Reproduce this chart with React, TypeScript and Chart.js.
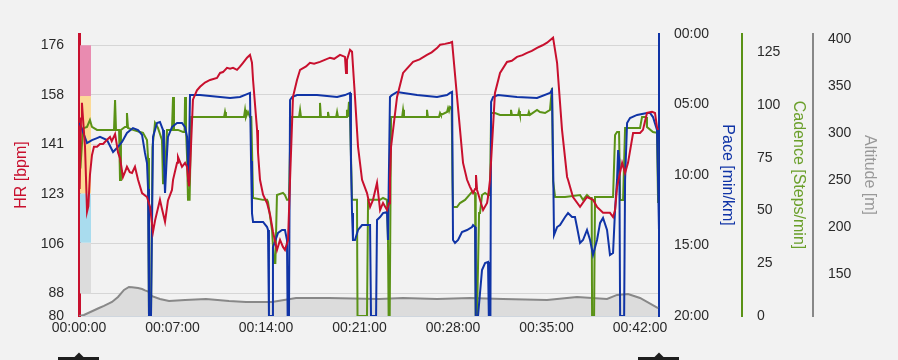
import React, { useEffect, useRef } from "react";
import { Chart, registerables } from "chart.js";

Chart.register(...registerables);

// ---------------- DATA (time in minutes) ----------------
const X_MAX = 43.42;
const X_TICKS = [0, 7, 14, 21, 28, 35, 42];
const HR_TICKS = [80, 88, 105.6, 123.2, 140.8, 158.4, 176];
const PACE_TICKS = [0, 5, 10, 15, 20];
const CAD_TICKS = [0, 25, 50, 75, 100, 125];
const ALT_TICKS = [150, 200, 250, 300, 350, 400];
const HR_ZONE_BOUNDS = [88, 106, 123.5, 158, 176];

const HR_DATA: number[][] = [
  [0.05, 125], [0.15, 150], [0.22, 155.6], [0.3, 150], [0.45, 140], [0.55, 125], [0.6, 117], [0.7, 119],
  [0.82, 130], [0.97, 137], [1.12, 140], [1.35, 140], [1.57, 141], [1.8, 141], [2.1, 142.5], [2.32, 143.5],
  [2.45, 142], [2.55, 143], [2.7, 144.5], [2.84, 140.5], [2.92, 138], [3.07, 136], [3.29, 129.3], [3.44, 131],
  [3.59, 132.9], [3.8, 131], [3.97, 130.7], [4.19, 132.9], [4.42, 128.3], [4.72, 123.6], [5.09, 122.2],
  [5.32, 118.7], [5.54, 109.8], [5.7, 114], [6.06, 121.2], [6.21, 118], [6.44, 113.4], [6.66, 121],
  [6.96, 124.7], [7.04, 128.3], [7.34, 134.3], [7.41, 136.4], [7.71, 132.9], [7.94, 134.3], [8.09, 132.9],
  [8.16, 129], [8.24, 126],
  [8.31, 131.8], [8.53, 156.7], [8.83, 160], [9.06, 161.3], [9.43, 162.8], [9.81, 163.7], [10.33, 164.4],
  [10.56, 166.2], [10.78, 166.5], [11.08, 168], [11.31, 167.7], [11.53, 168], [11.83, 167.3], [12.05, 168.4],
  [12.28, 169.8], [12.58, 171.6], [12.8, 172.6],
  [12.95, 169.8], [13.03, 163.7], [13.33, 146], [13.4, 138], [13.55, 128.3], [13.78, 123], [14.08, 120],
  [14.3, 116], [14.52, 110], [14.82, 103.4], [15.05, 107], [15.27, 104.5], [15.42, 103.4], [15.65, 107],
  [15.8, 128.3],
  [16.02, 157.7], [16.32, 163.7], [16.55, 167.3], [17.0, 168.5], [17.29, 169.8], [17.6, 169.5], [18.04, 170.1],
  [18.4, 170.8], [18.79, 171.6], [19.1, 171.2], [19.54, 172.6], [19.91, 171.9], [19.99, 166.2], [20.06, 170.8],
  [20.29, 174.4], [20.44, 173.7], [20.66, 157.7], [20.89, 140], [21.19, 128.3], [21.56, 123.6], [21.79, 118.7],
  [22.01, 121.2], [22.31, 127.2], [22.54, 117.6], [22.76, 120.1], [23.06, 117.6], [23.21, 120], [23.28, 128.3],
  [23.36, 140], [23.81, 157.7], [24.26, 166.2], [24.6, 168], [25.01, 170.1], [25.5, 171], [26.05, 172.6],
  [26.4, 173.5], [26.8, 175], [27.03, 176.2], [27.4, 176.5], [27.78, 176.9], [27.93, 177.2], [28.3, 157.7],
  [28.75, 134.3], [29.05, 128.3], [29.27, 125.8], [29.5, 123.6], [29.65, 125], [29.72, 130], [29.8, 124.7],
  [30.02, 121.2], [30.25, 117.6], [30.55, 120.1], [30.62, 122.2], [30.77, 128.3],
  [31.14, 159.1], [31.52, 166.2], [32.04, 170.1], [32.4, 170.5], [32.79, 171.9], [33.2, 172.5], [33.54, 173.3],
  [33.9, 174], [34.29, 175.1], [34.7, 176], [35.04, 176.9], [35.49, 178.7], [35.79, 169.8], [36.16, 146],
  [36.54, 129.3], [36.61, 128.3], [36.98, 122.2], [37.51, 118.7], [38.03, 122.2], [38.48, 121.2], [38.78, 118.7],
  [39.23, 116.6], [39.75, 116.6], [39.98, 115.1], [40.13, 117.6], [40.28, 125.8], [40.66, 134.3], [40.88, 130.7],
  [41.1, 134.3], [41.48, 144.9], [42.0, 144.9], [42.22, 146], [42.52, 152], [42.9, 152.4], [43.12, 152],
  [43.27, 147], [43.35, 146],
];

const PACE_DATA: number[][] = [
  [0.05, 6.3], [0.6, 7.73], [0.97, 7.52], [1.35, 7.38], [1.57, 7.3], [2.1, 7.52], [2.55, 8.37], [2.84, 8.09],
  [3.22, 7.66], [3.59, 7.02], [4.04, 6.67], [4.42, 6.81], [4.72, 7.16], [4.94, 8.44], [5.09, 9.15], [5.17, 11],
  [5.24, 20], [5.39, 20], [5.54, 7.3], [5.84, 6.31], [6.06, 6.24], [6.29, 6.81], [6.36, 9.15], [6.44, 11.28],
  [6.55, 9.15], [6.66, 7.3], [6.96, 6.6], [7.34, 6.31], [7.71, 6.31], [7.94, 6.6], [8.09, 7.3], [8.16, 9.15],
  [8.2, 10.5], [8.28, 6], [8.31, 4.33], [9.06, 4.33], [9.81, 4.4], [11.31, 4.54], [12.05, 4.47], [12.58, 4.26],
  [12.8, 4.18], [12.88, 9], [12.95, 12.7], [13.03, 13.33], [13.78, 13.33], [14.08, 13.69], [14.15, 13.9],
  [14.22, 20], [14.45, 20], [14.52, 15.11], [14.9, 14.11], [15.2, 13.9], [15.42, 13.9], [15.57, 14.61],
  [15.62, 20], [15.72, 20], [15.8, 4.68], [15.95, 4.47], [16.32, 4.33], [17.82, 4.33], [19.32, 4.47],
  [19.91, 4.33], [20.29, 4.18], [20.36, 9], [20.44, 12.7], [20.51, 14.61], [20.66, 14.61], [20.89, 13.9],
  [21.19, 13.55], [21.79, 13.55], [21.86, 20], [22.24, 20], [22.31, 13.19], [22.54, 12.98], [22.76, 12.7],
  [23.06, 12.62], [23.13, 14.61], [23.28, 4.47], [23.43, 4.33], [23.81, 4.11], [25.31, 4.33], [26.8, 4.47],
  [27.55, 4.33], [27.78, 4.18], [27.93, 4.11], [28.0, 14.61], [28.15, 14.82], [28.38, 14.61], [28.67, 14.04],
  [29.05, 13.9], [29.42, 13.69], [29.5, 13.55], [29.65, 13.69], [29.7, 20], [29.87, 20], [30.17, 16.74],
  [30.4, 16.24], [30.62, 16.17], [30.68, 20], [30.8, 20], [30.85, 4.82], [31.0, 4.47], [31.37, 4.33],
  [32.79, 4.47], [34.29, 4.54], [35.26, 4.18], [35.41, 3.97], [35.49, 9], [35.56, 14.26], [35.79, 13.69],
  [36.01, 13.55], [36.39, 12.98], [36.61, 12.7], [36.91, 12.98], [37.13, 12.98], [37.28, 13.69], [37.51, 14.82],
  [37.73, 14.61], [38.03, 13.9], [38.26, 14.61], [38.48, 15.67], [38.78, 14.61], [39.01, 13.4], [39.23, 13.05],
  [39.53, 13.9], [39.75, 15.67], [39.98, 15.53], [40.13, 12.48], [40.28, 10.35], [40.36, 8.23], [40.45, 8.94],
  [40.51, 20], [40.81, 20], [40.88, 10.35], [41.03, 6.31], [41.25, 5.96], [41.78, 5.74], [42.52, 5.6],
  [42.75, 5.6], [42.97, 5.89], [43.27, 6.81], [43.35, 10.35], [43.42, 14],
];

const CAD_DATA: number[][] = [
  [0.1, 70], [0.3, 89], [0.6, 89.7], [0.82, 93], [0.97, 89.7], [1.35, 88.3], [2.62, 88.3], [2.7, 102.5],
  [2.77, 88.3], [3.0, 88.3], [3.07, 64.5], [3.14, 88.3], [3.44, 89.7], [3.55, 89.7], [3.59, 96.3], [3.67, 89.2],
  [4.04, 88.3], [4.57, 87.3], [4.79, 86.9], [5.09, 83.5], [5.17, 75], [5.24, 0], [5.39, 0], [5.5, 80],
  [5.69, 91.6], [5.91, 89.2], [6.21, 83.5], [6.29, 63], [6.4, 63], [6.59, 88.3], [6.96, 88.3], [7.04, 103.9],
  [7.11, 88.3], [7.41, 88.3], [7.79, 87.3], [7.9, 87.3], [7.94, 103.9], [8.01, 88.3], [8.09, 75.5],
  [8.16, 55.1], [8.28, 55.1], [8.4, 94.4], [10.86, 94.4], [10.93, 96.8], [11.0, 94.4], [12.35, 94.4],
  [12.43, 97.8], [12.5, 94.4], [12.65, 96.8], [12.8, 94.4], [12.9, 94.4], [13.03, 56], [13.78, 55.1],
  [14.08, 55.1], [14.15, 54.1], [14.45, 40.8], [14.6, 25.2], [14.7, 25.2], [14.82, 57.4], [15.27, 58.4],
  [15.42, 57.4], [15.57, 55.1], [15.72, 55.1], [15.85, 94.4], [16.47, 94.4], [16.55, 97.8], [16.62, 94.4],
  [17.97, 94.4], [18.04, 101.1], [18.11, 94.4], [18.57, 94.4], [18.64, 96.8], [18.71, 94.4], [19.25, 94.4],
  [19.32, 96.8], [19.39, 94.4], [19.99, 94.4], [20.06, 97.8], [20.13, 94.4], [20.21, 101.6], [20.29, 94.4],
  [20.36, 94.4], [20.44, 55.1], [20.81, 55.1], [20.85, 0], [21.56, 0], [21.64, 55.1], [22.54, 55.1],
  [22.76, 56], [23.06, 55.1], [23.13, 36.1], [23.18, 0], [23.26, 0], [23.36, 94.4], [24.19, 94.4],
  [24.26, 97.8], [24.33, 94.4], [25.98, 94.4], [26.05, 97.8], [26.12, 94.4], [26.95, 94.4], [27.03, 96.3],
  [27.1, 95.4], [27.55, 96.8], [27.63, 98.7], [27.7, 97.3], [27.78, 99.2], [27.9, 98.7], [27.96, 64],
  [28.0, 51.7], [28.3, 51.7], [28.52, 53.6], [28.9, 55.1], [29.42, 58.9], [29.65, 58.4], [29.7, 0], [29.8, 0],
  [29.95, 48.9], [30.02, 48.9], [30.17, 57.4], [30.4, 58.4], [30.62, 57.4], [30.77, 57.4], [30.85, 96.3],
  [31.14, 96.3], [31.52, 95.4], [32.27, 95.4], [32.34, 97.8], [32.41, 95.4], [32.87, 95.4], [32.94, 97.3],
  [33.01, 95.4], [33.61, 95.4], [33.68, 96.8], [33.76, 95.4], [34.29, 97.8], [34.51, 96.8], [34.89, 96.3],
  [35.26, 97.8], [35.41, 108.2], [35.49, 64], [35.64, 56.5], [36.39, 56.5], [37.51, 57.4], [37.73, 55.1],
  [38.03, 57.4], [38.26, 56], [38.38, 56], [38.41, 0], [38.56, 0], [38.63, 56.5], [39.01, 56.5], [39.98, 56.5],
  [40.13, 85.9], [40.28, 87.3], [40.43, 87.3], [40.51, 55], [40.73, 55], [40.88, 89.2], [41.03, 89.2],
  [42.0, 89.2], [42.15, 94.4], [42.45, 94.4], [42.52, 89.7], [42.97, 87.3], [43.27, 86.9], [43.35, 54.1],
  [43.42, 54.1],
];

const ALT_DATA: number[][] = [
  [0, 105.3], [0.37, 106.4], [1.5, 113.8], [1.87, 116], [2.47, 120.2], [2.92, 125.5], [3.37, 133], [3.74, 136.2],
  [3.97, 136], [4.42, 135], [4.72, 134], [4.94, 132.5], [5.24, 130.9], [5.47, 126.5], [6.06, 123.4],
  [6.74, 121.3], [7.94, 122.3], [9.51, 123.4], [11.23, 121.3], [12.5, 120.2], [14.45, 120.2], [16.25, 124.5],
  [18.72, 124.5], [20.5, 123.8], [22.46, 123.4], [24.26, 124.5], [26.8, 123.4], [29.27, 124.5], [31.74, 123.4],
  [35.04, 122.3], [37.28, 125.5], [39.53, 123.4], [40.28, 127.7], [41.1, 128.7], [42.0, 124.5], [43.35, 113.8],
];

// ---------------- STYLE ----------------
const BG = "#f2f2f2";
const HR_COLOR = "#c8102e";
const PACE_COLOR = "#1034a6";
const CAD_COLOR = "#5a9216";
const ALT_COLOR = "#888888";
const ALT_FILL = "#dcdcdc";
const ZONE_COLORS = ["#dcdcdc", "#a9dcee", "#fcda96", "#e98bb0"];
const FONT = '"Liberation Sans", Arial, sans-serif';
const TICK_COLOR = "#2a2a2a";

const pad2 = (n: number) => String(n).padStart(2, "0");
const fmtHMS = (m: number) => {
  const s = Math.round(m * 60);
  return `${pad2(Math.floor(s / 3600))}:${pad2(Math.floor((s % 3600) / 60))}:${pad2(s % 60)}`;
};
const fmtMS = (m: number) => {
  const s = Math.round(m * 60);
  return `${pad2(Math.floor(s / 60))}:${pad2(s % 60)}`;
};
const toXY = (arr: number[][]) => arr.map(([x, y]) => ({ x, y }));
const fixedTicks = (vals: number[]) => (scale: any) => {
  scale.ticks = vals.map((v) => ({ value: v }));
};

const bgPlugin = {
  id: "bg",
  beforeDraw(chart: any) {
    const { ctx, width, height } = chart;
    ctx.save();
    ctx.fillStyle = BG;
    ctx.fillRect(0, 0, width, height);
    ctx.restore();
  },
};

const zonePlugin = {
  id: "zones",
  beforeDatasetsDraw(chart: any) {
    const { ctx, chartArea } = chart;
    const y = chart.scales.hr;
    ctx.save();
    for (let i = 0; i < HR_ZONE_BOUNDS.length - 1; i++) {
      const y0 = y.getPixelForValue(HR_ZONE_BOUNDS[i]);
      const y1 = y.getPixelForValue(HR_ZONE_BOUNDS[i + 1]);
      ctx.fillStyle = ZONE_COLORS[i];
      ctx.fillRect(chartArea.left + 1, y1, 11, y0 - y1);
    }
    ctx.restore();
  },
};

const handlePlugin = {
  id: "handles",
  afterDraw(chart: any) {
    const { ctx, chartArea } = chart;
    ctx.save();
    ctx.fillStyle = "#1e1e1e";
    for (const cx of [chartArea.left, chartArea.right]) {
      ctx.fillRect(cx - 21, 357, 41, 3);
      ctx.beginPath();
      ctx.moveTo(cx - 5, 357.5);
      ctx.lineTo(cx, 352.5);
      ctx.lineTo(cx + 5, 357.5);
      ctx.closePath();
      ctx.fill();
    }
    ctx.restore();
  },
};

export default function App() {
  const ref = useRef<HTMLCanvasElement | null>(null);

  useEffect(() => {
    if (!ref.current) return;
    const tickFont = { family: FONT, size: 14 };
    const titleFont = { family: FONT, size: 16 };
    const line = (label: string, data: number[][], color: string, axis: string, extra: any = {}) => ({
      label,
      data: toXY(data),
      yAxisID: axis,
      borderColor: color,
      borderWidth: 2,
      pointRadius: 0,
      tension: 0,
      fill: false,
      ...extra,
    });

    const chart = new Chart(ref.current, {
      type: "line",
      data: {
        datasets: [
          line("HR", HR_DATA, HR_COLOR, "hr"),
          line("Pace", PACE_DATA, PACE_COLOR, "pace"),
          line("Cadence", CAD_DATA, CAD_COLOR, "cad"),
          line("Altitude", ALT_DATA, ALT_COLOR, "alt", { fill: "start", backgroundColor: ALT_FILL }),
        ],
      },
      options: {
        responsive: false,
        animation: false,
        devicePixelRatio: 1,
        parsing: true,
        layout: { padding: { top: 34, left: 0, right: 0, bottom: 0 } },
        plugins: { legend: { display: false }, tooltip: { enabled: false } },
        scales: {
          x: {
            type: "linear",
            position: "bottom",
            min: 0,
            max: X_MAX,
            afterBuildTicks: fixedTicks(X_TICKS),
            ticks: {
              callback: (v: any) => fmtHMS(Number(v)),
              font: tickFont,
              color: TICK_COLOR,
              padding: 4,
              maxRotation: 0,
              autoSkip: false,
            },
            grid: { display: false, drawTicks: false },
            border: { display: true, color: "#cfd6de", width: 1 },
            afterFit: (s: any) => { s.height = 44; },
          },
          hr: {
            type: "linear",
            position: "left",
            min: 80,
            max: 180,
            afterBuildTicks: fixedTicks(HR_TICKS),
            ticks: { callback: (v: any) => String(Math.round(Number(v))), font: tickFont, color: TICK_COLOR, padding: 15 },
            grid: { color: "#d6d6d6", lineWidth: 1, drawTicks: false },
            border: { display: true, color: HR_COLOR, width: 3 },
            title: { display: true, text: "HR [bpm]", color: HR_COLOR, font: titleFont, padding: { top: 12, bottom: 0 } },
            afterFit: (s: any) => { s.width = 79; },
          },
          pace: {
            type: "linear",
            position: "right",
            reverse: true,
            min: 0,
            max: 20,
            afterBuildTicks: fixedTicks(PACE_TICKS),
            ticks: { callback: (v: any) => fmtMS(Number(v)), font: tickFont, color: TICK_COLOR, padding: 15 },
            grid: { display: false, drawTicks: false },
            border: { display: true, color: PACE_COLOR, width: 2 },
            title: { display: true, text: "Pace [min/km]", color: PACE_COLOR, font: titleFont, padding: { top: 5, bottom: 0 } },
            afterFit: (s: any) => { s.width = 83; },
          },
          cad: {
            type: "linear",
            position: "right",
            min: 0,
            max: 133.8,
            afterBuildTicks: fixedTicks(CAD_TICKS),
            ticks: { font: tickFont, color: TICK_COLOR, padding: 15 },
            grid: { display: false, drawTicks: false },
            border: { display: true, color: CAD_COLOR, width: 2 },
            title: { display: true, text: "Cadence [Steps/min]", color: "#6a9f2a", font: titleFont, padding: { top: 5, bottom: 0 } },
            afterFit: (s: any) => { s.width = 71; },
          },
          alt: {
            type: "linear",
            position: "right",
            min: 105.3,
            max: 405.3,
            afterBuildTicks: fixedTicks(ALT_TICKS),
            ticks: { font: tickFont, color: TICK_COLOR, padding: 15 },
            grid: { display: false, drawTicks: false },
            border: { display: true, color: ALT_COLOR, width: 2 },
            title: { display: true, text: "Altitude [m]", color: "#999999", font: titleFont, padding: { top: 19, bottom: 0 } },
            afterFit: (s: any) => { s.width = 85; },
          },
        },
      } as any,
      plugins: [bgPlugin, zonePlugin, handlePlugin],
    });
    return () => chart.destroy();
  }, []);

  return (
    <div style={{ position: "absolute", left: 0, top: 0, width: 898, height: 360, background: BG }}>
      <canvas ref={ref} width={898} height={360} style={{ width: 898, height: 360, display: "block" }} />
    </div>
  );
}
